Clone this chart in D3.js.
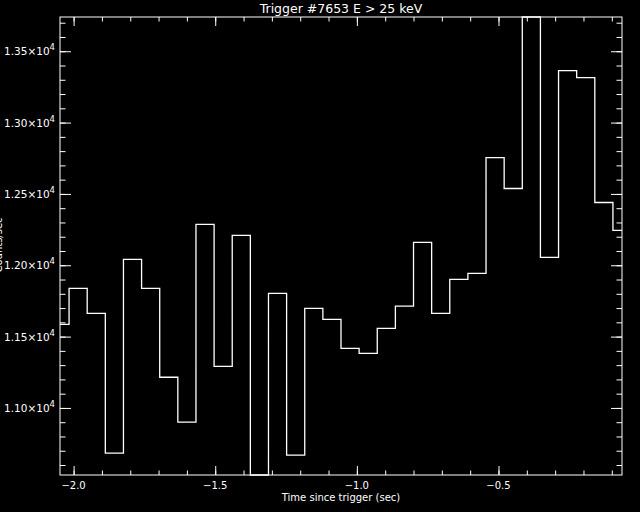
<!DOCTYPE html>
<html>
<head>
<meta charset="utf-8">
<script src="https://cdn.jsdelivr.net/npm/d3@7"></script>
<style>
  html, body { margin: 0; padding: 0; background: #000; }
  svg { display: block; }
  text { fill: #fff; font-family: "DejaVu Sans", sans-serif; }
</style>
</head>
<body>
<div id="chart"></div>
<script>
// bin centres (sec since trigger), 64 ms bins
const times = [-2.048, -1.984, -1.920, -1.856, -1.792, -1.728, -1.664, -1.600,
  -1.536, -1.472, -1.408, -1.344, -1.280, -1.216, -1.152, -1.088,
  -1.024, -0.960, -0.896, -0.832, -0.768, -0.704, -0.640, -0.576,
  -0.512, -0.448, -0.384, -0.320, -0.256, -0.192, -0.128, -0.064];
// counts per bin
const counts = [11586, 11838, 11663, 10683, 12041, 11838, 11215, 10900,
  12286, 11292, 12209, 10530, 11803, 10669, 11698, 11621,
  11418, 11383, 11558, 11714, 12160, 11663, 11901, 11943,
  12755, 12538, 13740, 12055, 13364, 13315, 12440, 12244];

const xMajor = [-2.0, -1.5, -1.0, -0.5];
const xMajorLabels = ["\u22122.0", "\u22121.5", "\u22121.0", "\u22120.5"];
const xMinor = [-2.0, -1.9, -1.8, -1.7, -1.6, -1.5, -1.4, -1.3, -1.2, -1.1,
  -1.0, -0.9, -0.8, -0.7, -0.6, -0.5, -0.4, -0.3, -0.2, -0.1];
const yMajor = [11000, 11500, 12000, 12500, 13000, 13500];
const yMajorLabels = ["1.10", "1.15", "1.20", "1.25", "1.30", "1.35"];
const yMinor = [10600, 10700, 10800, 10900, 11000, 11100, 11200, 11300, 11400,
  11500, 11600, 11700, 11800, 11900, 12000, 12100, 12200, 12300, 12400, 12500,
  12600, 12700, 12800, 12900, 13000, 13100, 13200, 13300, 13400, 13500, 13600, 13700];

const width = 640, height = 512;
const mLeft = 60, mRight = 622, mTop = 17, mBottom = 475;

const svg = d3.select("#chart").append("svg")
  .attr("width", width)
  .attr("height", height);
svg.append("rect").attr("width", width).attr("height", height).attr("fill", "#000");

const x = d3.scaleLinear().domain([times[0], times[times.length - 1]]).range([mLeft, mRight]);
const y = d3.scaleLinear().domain([d3.min(counts), d3.max(counts)]).range([mBottom, mTop]);

// ticks, pointing inward on all four sides
function ticks(axis, vals, size, tr) {
  const g = svg.append("g").attr("transform", tr)
    .call(axis.tickValues(vals).tickSize(size).tickFormat(""));
  g.select(".domain").remove();
  g.selectAll("line").attr("stroke", "#fff").attr("stroke-width", 1);
}
ticks(d3.axisBottom(x), xMinor, -4.5, `translate(0,${mBottom})`);
ticks(d3.axisBottom(x), xMajor, -9, `translate(0,${mBottom})`);
ticks(d3.axisTop(x), xMinor, -4.5, `translate(0,${mTop})`);
ticks(d3.axisTop(x), xMajor, -9, `translate(0,${mTop})`);
ticks(d3.axisLeft(y), yMinor, -5.5, `translate(${mLeft},0)`);
ticks(d3.axisLeft(y), yMajor, -11, `translate(${mLeft},0)`);
ticks(d3.axisRight(y), yMinor, -5.5, `translate(${mRight},0)`);
ticks(d3.axisRight(y), yMajor, -11, `translate(${mRight},0)`);

// frame
svg.append("rect")
  .attr("x", mLeft).attr("y", mTop)
  .attr("width", mRight - mLeft).attr("height", mBottom - mTop)
  .attr("fill", "none").attr("stroke", "#fff").attr("stroke-width", 1);

// histogram (steps centred on each bin)
const pts = [];
times.forEach((t, i) => {
  const a = i === 0 ? t : (times[i - 1] + t) / 2;
  const b = i === times.length - 1 ? t : (t + times[i + 1]) / 2;
  pts.push([a, counts[i]], [b, counts[i]]);
});
svg.append("path")
  .attr("d", d3.line().x(d => x(d[0])).y(d => y(d[1]))(pts))
  .attr("fill", "none")
  .attr("stroke", "#fff")
  .attr("stroke-width", 1.3);

// x labels
svg.selectAll(".xl").data(xMajor).enter().append("text")
  .attr("x", d => x(d))
  .attr("y", mBottom + 14)
  .attr("text-anchor", "middle")
  .attr("font-size", 10)
  .text((d, i) => xMajorLabels[i]);

// y labels: 1.35x10^4
const yl = svg.selectAll(".yl").data(yMajor).enter().append("text")
  .attr("x", 55)
  .attr("y", d => y(d) + 4)
  .attr("text-anchor", "end")
  .attr("font-size", 10.5);
yl.append("tspan").text((d, i) => yMajorLabels[i] + "\u00d710");
yl.append("tspan").attr("dy", -5).attr("font-size", 8.5).text("4");

svg.append("text")
  .attr("x", (mLeft + mRight) / 2)
  .attr("y", 13)
  .attr("text-anchor", "middle")
  .attr("font-size", 12.5)
  .text("Trigger #7653 E > 25 keV");

svg.append("text")
  .attr("x", (mLeft + mRight) / 2)
  .attr("y", 501)
  .attr("text-anchor", "middle")
  .attr("font-size", 10)
  .text("Time since trigger (sec)");

// y title, mostly cut off at the left edge as in the original
svg.append("text")
  .attr("transform", "translate(2,245) rotate(-90)")
  .attr("text-anchor", "middle")
  .attr("font-size", 10)
  .text("Counts/sec");
</script>
</body>
</html>
